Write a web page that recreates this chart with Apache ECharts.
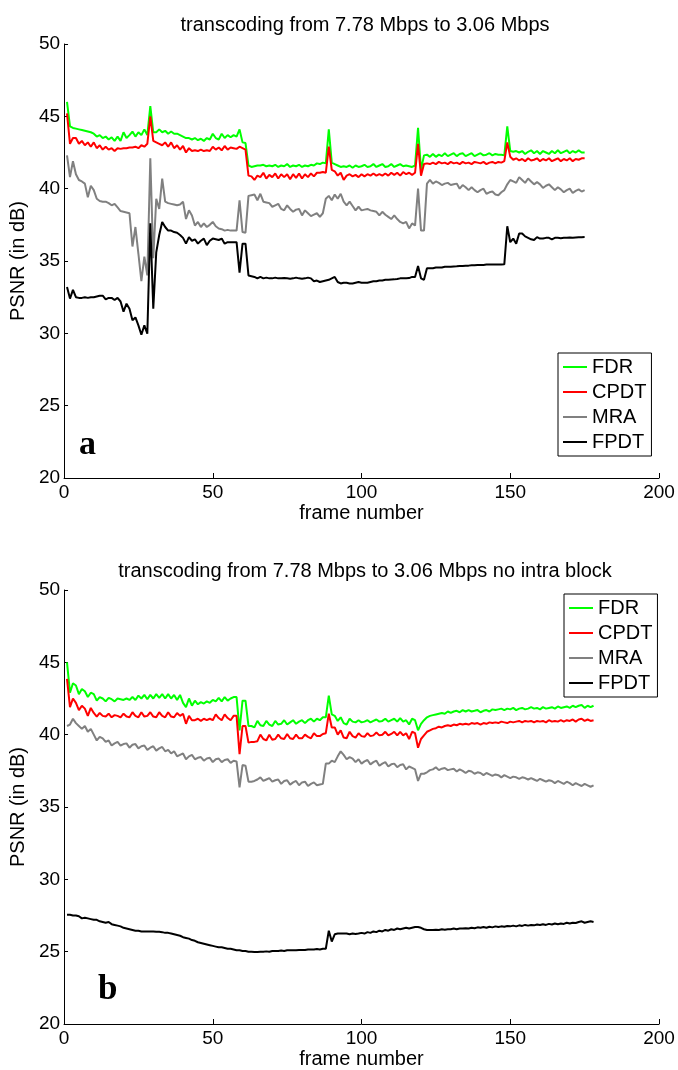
<!DOCTYPE html>
<html>
<head>
<meta charset="utf-8">
<title>PSNR transcoding</title>
<script src="https://cdn.jsdelivr.net/npm/echarts@6/dist/echarts.min.js"></script>
<style>
body{margin:0;background:#fff;}
#psnrChart{width:678px;height:1070px;}
</style>
</head>
<body>
<div id="psnrChart"></div>
<script>
// chart a : frames 1..175
var topFdr = [46.0,44.3,44.2,44.15,44.1,44.05,44.0,43.95,43.9,43.8,
	43.6,43.7,43.5,43.6,43.4,43.55,43.3,43.6,43.3,43.9,
	43.5,43.7,43.95,43.6,43.9,43.7,44.1,43.7,45.7,43.9,
	43.9,44.1,43.9,44.0,43.8,43.95,43.8,43.8,43.7,43.6,
	43.5,43.5,43.4,43.5,43.35,43.45,43.3,43.5,43.4,43.8,
	43.5,43.4,43.8,43.5,43.7,43.55,43.7,43.6,44.1,43.2,
	43.15,41.6,41.5,41.55,41.6,41.6,41.65,41.55,41.6,41.55,
	41.65,41.5,41.6,41.55,41.7,41.5,41.6,41.55,41.65,41.5,
	41.6,41.55,41.65,41.6,41.75,41.7,41.8,41.75,44.1,41.8,
	41.7,41.6,41.5,41.55,41.5,41.6,41.45,41.6,41.5,41.55,
	41.65,41.5,41.55,41.7,41.5,41.6,41.7,41.5,41.55,41.7,
	41.5,41.6,41.7,41.55,41.6,41.55,41.5,41.6,44.2,41.3,
	42.3,42.35,42.2,42.4,42.2,42.35,42.25,42.45,42.25,42.35,
	42.45,42.25,42.4,42.45,42.25,42.35,42.45,42.25,42.35,42.45,
	42.3,42.35,42.45,42.3,42.4,42.35,42.35,42.3,44.3,42.6,
	42.55,42.6,42.5,42.6,42.4,42.55,42.65,42.45,42.6,42.4,
	42.6,42.5,42.4,42.6,42.45,42.65,42.45,42.55,42.65,42.45,
	42.6,42.5,42.65,42.5,42.5];
var topCpdt = [45.2,43.1,43.5,43.5,43.1,43.3,43.0,43.2,42.9,43.2,
	42.8,43.0,42.7,42.9,42.7,42.8,42.6,42.8,42.75,42.8,
	42.8,42.85,42.85,42.9,42.8,43.0,42.9,43.1,45.0,43.3,
	43.2,43.1,43.0,43.2,42.9,43.2,42.8,43.0,42.7,42.95,
	42.5,42.8,42.6,42.65,42.6,42.7,42.6,42.65,42.6,42.9,
	42.7,42.85,42.65,42.95,42.7,42.85,42.8,42.75,42.9,42.8,
	42.7,40.9,40.85,40.6,40.9,40.8,41.1,40.7,40.95,40.8,
	41.05,40.7,41.0,40.8,41.0,40.65,41.0,40.75,41.05,40.7,
	41.0,40.8,41.05,40.85,41.1,41.1,41.15,41.1,42.9,41.3,
	41.2,40.9,41.1,40.6,40.9,41.0,40.85,40.95,40.8,41.0,
	40.85,41.0,40.9,41.05,40.9,41.0,40.9,41.05,40.9,41.1,
	40.95,41.1,40.9,41.15,41.0,41.1,40.95,41.1,43.1,40.9,
	41.7,41.75,41.7,41.8,41.7,41.85,41.75,41.8,41.7,41.85,
	41.75,41.8,41.7,41.85,41.75,41.8,41.7,41.85,41.8,41.75,
	41.85,41.7,41.8,41.85,41.75,41.85,41.8,41.9,43.2,42.2,
	42.0,42.1,41.95,42.05,41.9,42.1,41.95,42.0,42.1,41.9,
	42.05,41.95,42.1,41.9,42.0,42.1,41.9,42.05,41.95,42.1,
	41.9,42.05,42.0,42.1,42.1];
var topMra = [42.3,40.8,41.9,41.0,40.6,40.5,40.35,39.4,40.2,39.9,
	39.3,39.15,39.1,39.1,39.0,38.85,38.95,38.7,38.45,38.4,
	38.35,38.3,36.0,37.35,35.5,33.6,35.3,34.0,42.1,35.2,
	39.3,38.6,40.7,39.1,39.0,38.95,38.9,38.85,38.9,39.1,
	37.9,38.5,38.15,37.45,37.7,37.35,37.6,37.35,37.5,37.7,
	37.4,37.25,37.2,37.1,37.15,37.1,37.1,37.1,39.2,37.0,
	36.95,39.5,39.55,39.6,39.2,39.65,39.1,39.05,39.0,38.75,
	38.85,38.95,38.6,38.5,38.85,38.6,38.4,38.55,38.6,38.15,
	38.5,38.3,38.1,38.2,38.3,38.05,38.3,39.3,39.5,39.2,
	39.6,39.3,39.65,39.1,38.85,39.1,38.8,38.5,38.75,38.5,
	38.55,38.6,38.5,38.45,38.4,38.15,38.4,38.2,38.05,37.9,
	38.15,37.9,37.7,37.6,37.7,37.25,37.6,37.45,40.0,37.1,
	37.1,40.35,40.6,40.35,40.5,40.4,40.25,40.35,40.4,40.25,
	40.3,40.35,40.0,40.25,40.1,39.9,40.1,39.9,39.75,39.9,
	40.0,39.65,39.75,39.8,39.6,39.55,39.75,39.9,40.3,40.6,
	40.5,40.4,40.8,40.6,40.4,40.7,40.5,40.3,40.45,40.3,
	40.05,40.2,40.3,40.1,39.9,40.1,39.95,39.75,39.9,40.0,
	39.7,39.85,39.95,39.8,39.9];
var topFpdt = [33.2,32.4,33.0,32.5,32.45,32.45,32.5,32.45,32.5,32.5,
	32.55,32.6,32.6,32.35,32.45,32.45,32.3,32.45,32.2,31.5,
	32.05,31.7,30.9,31.1,30.55,29.9,30.55,29.97,37.6,31.7,
	35.6,36.8,37.7,37.35,37.1,37.1,37.0,36.95,36.8,36.6,
	36.2,36.65,36.4,36.5,36.2,36.4,36.55,36.1,36.4,36.55,
	36.5,36.45,36.55,36.2,36.3,36.3,36.3,36.3,34.2,36.2,
	36.2,34.0,33.95,33.9,33.8,33.9,33.8,33.85,33.8,33.8,
	33.85,33.8,33.8,33.82,33.8,33.78,33.8,33.85,33.8,33.78,
	33.8,33.85,33.8,33.6,33.65,33.55,33.6,33.65,33.7,33.8,
	33.9,33.55,33.45,33.5,33.5,33.45,33.45,33.5,33.55,33.5,
	33.5,33.5,33.55,33.6,33.6,33.65,33.65,33.7,33.7,33.72,
	33.73,33.75,33.8,33.8,33.8,33.82,33.9,33.9,34.65,33.8,
	33.7,34.5,34.5,34.5,34.55,34.55,34.55,34.6,34.6,34.6,
	34.62,34.63,34.65,34.65,34.67,34.68,34.7,34.7,34.72,34.72,
	34.73,34.75,34.75,34.75,34.75,34.76,34.76,34.77,37.4,36.3,
	36.55,36.2,36.9,36.9,36.7,36.6,36.5,36.45,36.65,36.55,
	36.55,36.6,36.6,36.5,36.6,36.6,36.58,36.6,36.6,36.62,
	36.6,36.62,36.64,36.65,36.66];

// chart b : frames 1..178
var botFdr = [45.0,42.9,43.55,43.4,42.8,43.15,43.0,42.6,42.9,42.8,
	42.35,42.6,42.5,42.3,42.55,42.45,42.3,42.5,42.45,42.4,
	42.5,42.4,42.6,42.4,42.7,42.5,42.75,42.45,42.75,42.5,
	42.8,42.55,42.8,42.5,42.8,42.5,42.75,42.4,42.75,42.2,
	41.9,42.5,42.0,42.35,42.1,42.25,42.15,42.3,42.2,42.4,
	42.3,42.55,42.3,42.6,42.35,42.5,42.6,42.6,40.3,42.35,
	42.35,40.6,40.6,40.5,40.95,40.65,40.6,40.95,40.7,40.6,
	40.95,40.7,40.75,41.0,40.7,40.85,41.0,40.75,40.9,41.0,
	40.8,41.0,41.1,40.9,41.1,41.0,41.2,41.2,42.7,41.4,
	41.3,40.95,41.2,40.8,40.7,41.1,40.9,40.85,41.0,40.85,
	40.9,41.0,40.85,40.95,41.05,40.9,40.95,41.1,40.9,41.0,
	41.1,40.9,41.15,40.9,41.0,40.7,41.1,41.0,40.3,40.75,
	41.0,41.2,41.3,41.35,41.4,41.45,41.5,41.45,41.6,41.5,
	41.6,41.65,41.55,41.7,41.6,41.7,41.6,41.65,41.7,41.55,
	41.65,41.7,41.6,41.75,41.7,41.75,41.8,41.7,41.8,41.75,
	41.85,41.7,41.8,41.85,41.75,41.8,41.9,41.8,41.85,41.75,
	41.9,41.8,41.85,41.9,41.8,41.95,41.85,41.9,41.95,41.85,
	42.0,41.9,42.0,42.05,41.85,42.0,41.9,42.0];
var botCpdt = [43.85,41.9,42.5,42.2,41.7,42.0,41.8,41.3,41.85,41.5,
	41.25,41.5,41.3,41.25,41.45,41.2,41.35,41.3,41.2,41.45,
	41.25,41.2,41.55,41.3,41.2,41.55,41.25,41.3,41.55,41.25,
	41.2,41.55,41.3,41.2,41.55,41.25,41.2,41.5,41.3,41.45,
	40.75,41.3,41.0,41.0,41.1,40.95,41.1,41.0,41.1,41.0,
	41.4,41.15,41.0,41.4,41.15,41.0,41.3,41.3,38.65,40.6,
	40.6,39.45,39.5,39.5,39.55,40.0,39.7,39.6,40.0,39.65,
	39.7,40.0,39.75,39.7,40.05,39.75,39.7,40.0,39.75,39.75,
	40.0,39.85,39.75,40.1,39.9,39.9,40.05,40.1,41.45,40.5,
	40.5,40.0,40.3,39.8,39.75,40.2,39.9,39.8,40.1,39.9,
	39.85,40.1,39.9,39.95,40.15,39.95,40.0,40.2,39.95,40.05,
	40.2,39.95,40.2,39.95,40.1,39.7,40.2,40.1,39.1,39.7,
	39.95,40.2,40.3,40.4,40.45,40.55,40.5,40.6,40.65,40.6,
	40.7,40.65,40.75,40.7,40.75,40.7,40.8,40.75,40.8,40.7,
	40.8,40.75,40.85,40.8,40.85,40.8,40.9,40.85,40.8,40.9,
	40.85,40.9,40.95,40.85,40.95,40.9,40.95,40.85,40.95,40.9,
	40.95,40.85,41.0,40.9,40.95,40.9,41.0,40.9,41.0,40.95,
	41.05,40.9,41.05,41.1,40.95,41.05,40.95,41.0];
var botMra = [40.6,40.7,41.1,40.8,40.6,40.4,40.6,40.2,40.4,40.0,
	39.6,39.85,39.75,39.5,39.6,39.25,39.4,39.5,39.25,39.35,
	39.4,39.1,39.3,39.35,39.05,39.2,39.25,38.95,39.1,39.2,
	38.9,39.05,39.15,38.85,38.95,38.7,38.85,38.5,38.6,38.7,
	38.3,38.5,38.6,38.3,38.4,38.45,38.2,38.35,38.4,38.1,
	38.3,38.35,38.1,38.25,38.3,38.05,38.2,38.15,36.35,37.9,
	37.85,36.75,36.75,36.8,36.9,37.05,36.8,36.9,37.0,36.75,
	36.85,36.9,36.6,36.8,36.85,36.55,36.7,36.8,36.5,36.7,
	36.75,36.45,36.6,36.7,36.5,36.55,36.6,38.0,38.0,38.2,
	38.1,38.5,38.85,38.6,38.3,38.45,38.35,38.1,38.3,38.0,
	38.15,38.25,37.95,38.1,38.2,37.85,38.0,38.1,37.8,37.95,
	38.0,37.75,37.9,37.95,37.6,37.8,37.7,37.6,36.8,37.3,
	37.3,37.4,37.55,37.6,37.75,37.55,37.65,37.7,37.55,37.6,
	37.65,37.45,37.6,37.5,37.35,37.5,37.45,37.3,37.4,37.35,
	37.2,37.35,37.25,37.15,37.25,37.2,37.05,37.2,37.1,37.0,
	37.1,37.05,36.95,37.05,37.0,36.9,37.0,36.9,36.8,36.95,
	36.85,36.75,36.85,36.8,36.65,36.8,36.7,36.6,36.75,36.65,
	36.5,36.65,36.55,36.45,36.6,36.5,36.4,36.5];
var botFpdt = [27.55,27.55,27.5,27.5,27.45,27.3,27.35,27.3,27.25,27.2,
	27.2,27.1,27.05,27.0,27.05,26.9,26.85,26.8,26.75,26.65,
	26.6,26.55,26.5,26.45,26.45,26.4,26.4,26.4,26.4,26.4,
	26.38,26.38,26.35,26.3,26.3,26.25,26.2,26.15,26.1,26.0,
	25.95,25.9,25.8,25.75,25.65,25.6,25.55,25.5,25.45,25.4,
	25.35,25.3,25.3,25.25,25.2,25.2,25.15,25.1,25.1,25.05,
	25.05,25.0,25.0,24.98,24.98,25.0,25.0,25.02,25.0,25.05,
	25.05,25.05,25.08,25.05,25.1,25.1,25.1,25.1,25.12,25.12,
	25.12,25.15,25.15,25.15,25.18,25.15,25.2,25.2,26.45,25.7,
	26.2,26.25,26.25,26.25,26.25,26.2,26.25,26.22,26.25,26.3,
	26.25,26.35,26.3,26.4,26.35,26.45,26.4,26.5,26.45,26.55,
	26.5,26.6,26.55,26.6,26.65,26.6,26.65,26.7,26.7,26.65,
	26.55,26.5,26.5,26.5,26.52,26.5,26.55,26.52,26.55,26.55,
	26.6,26.55,26.6,26.6,26.62,26.6,26.65,26.62,26.68,26.65,
	26.7,26.65,26.72,26.68,26.75,26.7,26.75,26.72,26.78,26.75,
	26.8,26.75,26.82,26.78,26.85,26.8,26.85,26.82,26.88,26.85,
	26.9,26.85,26.92,26.88,26.95,26.9,26.95,26.92,27.0,26.95,
	27.0,26.98,27.05,27.1,27.0,27.05,27.1,27.05];

var names = ['FDR','CPDT','MRA','FPDT'];
var colors = ['#00ff00','#ff0000','#808080','#000000'];
var yTicks = [20,25,30,35,40,45,50];
var xTicks = [0,50,100,150,200];

var FONT = '"Liberation Sans", Arial, sans-serif';

// frame number = index + 1
function toPairs(arr){
	var out = [];
	for(var i=0;i<arr.length;i++){
		out.push([i+1, arr[i]]);
	}
	return out;
}

function makeX(idx){
	return {
		type:'value', gridIndex:idx,
		min:xTicks[0], max:xTicks[xTicks.length-1], interval:50,
		name:'frame number', nameLocation:'middle', nameGap:25,
		nameTextStyle:{fontSize:20, color:'#000', fontFamily:FONT},
		axisLine:{lineStyle:{color:'#000', width:1}},
		axisTick:{inside:true, length:5, lineStyle:{color:'#000'}},
		axisLabel:{fontSize:19, color:'#000', fontFamily:FONT, margin:5},
		splitLine:{show:false}
	};
}

function makeY(idx){
	return {
		type:'value', gridIndex:idx,
		min:yTicks[0], max:yTicks[yTicks.length-1], interval:5,
		name:'PSNR (in dB)', nameLocation:'middle', nameGap:31, nameRotate:90,
		nameTextStyle:{fontSize:20, color:'#000', fontFamily:FONT},
		axisLine:{show:true, lineStyle:{color:'#000', width:1}},
		axisTick:{show:true, inside:true, length:4, lineStyle:{color:'#000'}},
		axisLabel:{fontSize:19, color:'#000', fontFamily:FONT, margin:4},
		splitLine:{show:false}
	};
}

function makeSeries(idx, lists){
	var s = [];
	for(var i=0;i<lists.length;i++){
		s.push({
			name:names[i], type:'line',
			xAxisIndex:idx, yAxisIndex:idx,
			data:toPairs(lists[i]),
			symbol:'none', showSymbol:false,
			lineStyle:{color:colors[i], width:2},
			itemStyle:{color:colors[i]},
			emphasis:{disabled:true}
		});
	}
	return s;
}

// legend box with plain line keys
function makeLegend(left, top){
	return {
		orient:'vertical', left:left, top:top,
		data:names,
		icon:'rect',
		itemWidth:24, itemHeight:2, itemGap:5,
		padding:[4,5,4,5],
		borderColor:'#000', borderWidth:1,
		backgroundColor:'#fff',
		textStyle:{fontSize:20, color:'#000', fontFamily:FONT, lineHeight:20},
		selectedMode:false
	};
}

var chart = echarts.init(document.getElementById('psnrChart'));

var option = {
	animation:false,
	backgroundColor:'#fff',
	title:[
		{text:'transcoding from 7.78 Mbps to 3.06 Mbps', left:360, top:10, textAlign:'center',
		 textStyle:{fontSize:20, fontWeight:'normal', color:'#000', fontFamily:FONT}},
		{text:'transcoding from 7.78 Mbps to 3.06 Mbps no intra block', left:360, top:556, textAlign:'center',
		 textStyle:{fontSize:20, fontWeight:'normal', color:'#000', fontFamily:FONT}}
	],
	grid:[
		{left:62, top:44, width:597, height:434},
		{left:62, top:590, width:597, height:434}
	],
	xAxis:[makeX(0), makeX(1)],
	yAxis:[makeY(0), makeY(1)],
	legend:[makeLegend(558, 353), makeLegend(564, 594)],
	graphic:[
		{type:'text', left:79, top:428, style:{text:'a', font:'bold 34px "Liberation Serif", "Times New Roman", serif', fill:'#000'}},
		{type:'text', left:98, top:972, style:{text:'b', font:'bold 35px "Liberation Serif", "Times New Roman", serif', fill:'#000'}}
	],
	series:makeSeries(0,[topFdr,topCpdt,topMra,topFpdt]).concat(makeSeries(1,[botFdr,botCpdt,botMra,botFpdt]))
};

chart.setOption(option);
</script>
</body>
</html>
